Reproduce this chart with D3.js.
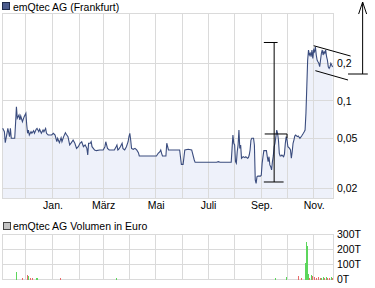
<!DOCTYPE html>
<html><head><meta charset="utf-8">
<script src="https://cdn.jsdelivr.net/npm/d3@7/dist/d3.min.js"></script>
<style>
html,body{margin:0;padding:0;background:#fff;}
svg{display:block;font-family:"Liberation Sans",Arial,sans-serif;}
</style></head>
<body>
<script>
// ---------- data ----------
const priceDates = [
"2004-11-04","2004-11-06","2004-11-07","2004-11-09","2004-11-10","2004-11-12","2004-11-13","2004-11-14","2004-11-18","2004-11-19",
"2004-11-20","2004-11-21","2004-11-23","2004-11-24","2004-11-25","2004-11-27","2004-11-29","2004-12-01","2004-12-02","2004-12-03",
"2004-12-04","2004-12-05","2004-12-07","2004-12-08","2004-12-10","2004-12-11","2004-12-13","2004-12-14","2004-12-16","2004-12-17",
"2004-12-19","2004-12-21","2004-12-22","2004-12-24","2004-12-25","2004-12-27","2004-12-31","2005-01-02","2005-01-04","2005-01-06",
"2005-01-07","2005-01-09","2005-01-11","2005-01-12","2005-01-14","2005-01-16","2005-01-17","2005-01-19","2005-01-21","2005-01-23",
"2005-01-25","2005-01-27","2005-01-29","2005-01-31","2005-02-02","2005-02-04","2005-02-06","2005-02-08","2005-02-10","2005-02-11",
"2005-02-12","2005-02-14","2005-02-15","2005-02-16","2005-02-19","2005-02-21","2005-02-25","2005-03-01","2005-03-03","2005-03-04",
"2005-03-06","2005-03-08","2005-03-14","2005-03-16","2005-03-17","2005-03-18","2005-03-19","2005-03-21","2005-03-23","2005-03-24",
"2005-03-25","2005-03-26","2005-03-28","2005-03-30","2005-03-31","2005-04-01","2005-04-02","2005-04-03","2005-04-05","2005-04-07",
"2005-04-09","2005-04-11","2005-04-12","2005-05-02","2005-05-04","2005-05-06","2005-05-07","2005-05-08","2005-05-09","2005-05-13",
"2005-05-14","2005-05-16","2005-05-29","2005-05-31","2005-06-02","2005-06-04","2005-06-08","2005-06-12","2005-06-15","2005-06-16",
"2005-07-11","2005-07-13","2005-07-15","2005-07-28","2005-07-29","2005-07-30","2005-07-31","2005-08-01","2005-08-02","2005-08-03",
"2005-08-04","2005-08-05","2005-08-06","2005-08-07","2005-08-08","2005-08-09","2005-08-11","2005-08-13","2005-08-14","2005-08-16",
"2005-08-17","2005-08-18","2005-08-19","2005-08-20","2005-08-21","2005-08-23","2005-08-24","2005-08-25","2005-08-26","2005-08-27",
"2005-08-28","2005-08-31","2005-09-01","2005-09-02","2005-09-03","2005-09-04","2005-09-07","2005-09-08","2005-09-09","2005-09-10",
"2005-09-11","2005-09-12","2005-09-13","2005-09-14","2005-09-15","2005-09-16","2005-09-17","2005-09-18","2005-09-19","2005-09-20",
"2005-09-21","2005-09-22","2005-09-23","2005-09-24","2005-09-25","2005-09-27","2005-09-28","2005-09-29","2005-09-30","2005-10-01",
"2005-10-02","2005-10-04","2005-10-05","2005-10-06","2005-10-07","2005-10-08","2005-10-09","2005-10-10","2005-10-11","2005-10-13",
"2005-10-14","2005-10-16","2005-10-18","2005-10-20","2005-10-21","2005-10-22","2005-10-23","2005-10-24","2005-10-25","2005-10-26",
"2005-10-27","2005-10-28","2005-10-29","2005-10-30","2005-10-31","2005-11-01","2005-11-02","2005-11-03","2005-11-04","2005-11-05",
"2005-11-06","2005-11-07","2005-11-08","2005-11-09","2005-11-10","2005-11-11","2005-11-12","2005-11-13","2005-11-14","2005-11-15",
"2005-11-16","2005-11-17","2005-11-18","2005-11-19","2005-11-20","2005-11-21","2005-11-23"
];
const priceValues = [
0.0600,0.0564,0.0461,0.0548,0.0600,0.0515,0.0600,0.0500,0.0500,0.0659,
0.0894,0.0722,0.0767,0.0700,0.0753,0.0679,0.0744,0.0792,0.0638,0.0548,
0.0582,0.0531,0.0564,0.0548,0.0575,0.0548,0.0590,0.0600,0.0564,0.0590,
0.0548,0.0582,0.0564,0.0600,0.0548,0.0531,0.0531,0.0548,0.0531,0.0469,
0.0500,0.0461,0.0505,0.0469,0.0515,0.0554,0.0538,0.0515,0.0442,0.0461,
0.0484,0.0456,0.0415,0.0428,0.0456,0.0469,0.0428,0.0442,0.0415,0.0367,
0.0456,0.0456,0.0469,0.0428,0.0403,0.0398,0.0403,0.0403,0.0428,0.0469,
0.0415,0.0403,0.0403,0.0428,0.0442,0.0403,0.0408,0.0428,0.0456,0.0415,
0.0408,0.0403,0.0428,0.0469,0.0515,0.0548,0.0484,0.0415,0.0408,0.0415,
0.0403,0.0383,0.0361,0.0361,0.0379,0.0390,0.0403,0.0379,0.0361,0.0361,
0.0456,0.0403,0.0403,0.0309,0.0309,0.0403,0.0408,0.0403,0.0335,0.0321,
0.0321,0.0325,0.0321,0.0321,0.0415,0.0531,0.0456,0.0442,0.0325,0.0315,
0.0390,0.0442,0.0582,0.0415,0.0442,0.0346,0.0356,0.0350,0.0356,0.0346,
0.0350,0.0367,0.0403,0.0484,0.0500,0.0500,0.0442,0.0232,0.0218,0.0246,
0.0249,0.0249,0.0253,0.0315,0.0356,0.0398,0.0398,0.0356,0.0325,0.0356,
0.0306,0.0296,0.0279,0.0325,0.0361,0.0428,0.0456,0.0515,0.0582,0.0548,
0.0484,0.0379,0.0361,0.0361,0.0367,0.0356,0.0374,0.0456,0.0515,0.0484,
0.0428,0.0415,0.0403,0.0346,0.0390,0.0456,0.0484,0.0521,0.0531,0.0515,
0.0521,0.0500,0.0521,0.0548,0.0564,0.0582,0.0792,0.1293,0.2113,0.2541,
0.2318,0.2392,0.2246,0.2541,0.2180,0.2541,0.2463,0.2700,0.2318,0.2113,
0.2048,0.1989,0.1867,0.2113,0.2392,0.2541,0.2318,0.2463,0.2392,0.2541,
0.2246,0.2113,0.1867,0.1814,0.1867,0.1989,0.1860
];
const volumeDates = [
"2004-11-20","2004-11-27","2004-12-03","2004-12-04","2004-12-06","2004-12-09","2004-12-13","2004-12-14","2005-01-10","2005-03-17",
"2005-09-17","2005-09-30","2005-10-14","2005-10-18","2005-10-22","2005-10-24","2005-10-25","2005-10-26","2005-10-27","2005-10-30",
"2005-10-31","2005-11-02","2005-11-04","2005-11-07","2005-11-09","2005-11-10","2005-11-13","2005-11-14","2005-11-16","2005-11-17",
"2005-11-20","2005-11-22","2005-11-23"
];
const volumeValues = [ // thousand euro
47,9,29,20,9,9,9,9,9,9,
9,12,22,9,109,247,220,36,9,29,
22,12,9,12,9,9,12,9,12,9,
9,12,9
];
const volumeDirection = [
"up","down","down","up","down","down","up","up","down","up",
"up","up","down","down","up","up","up","up","down","up",
"down","down","down","down","down","up","up","down","up","down",
"down","up","down"
];
const priceTicks = [0.02, 0.05, 0.1, 0.2];
const priceTickLabels = ["0,02", "0,05", "0,1", "0,2"];
const volumeTicks = [0, 100, 200, 300];
const volumeTickLabels = ["0T", "100T", "200T", "300T"];
const monthLabelDates = ["2005-01-01","2005-03-01","2005-05-01","2005-07-01","2005-09-01","2005-11-01"];
const monthLabels = ["Jan.", "März", "Mai", "Juli", "Sep.", "Nov."];
const priceTitle = "emQtec AG (Frankfurt)";
const volumeTitle = "emQtec AG Volumen in Euro";
// drawn annotations (date, price)
const channelUpper = [["2005-11-01", 0.275], ["2005-12-14", 0.2274]];
const channelLower = [["2005-11-03", 0.1736], ["2005-12-11", 0.1462]];
const arrowStem = [["2005-12-28", 0.1633], ["2005-12-28", 0.615]];
const arrowBase = [["2005-12-11", 0.1633], ["2006-01-03", 0.1633]];
const rangeStem = [["2005-09-16", 0.2918], ["2005-09-16", 0.02234]];
const rangeTop = [["2005-09-04", 0.2918], ["2005-09-20", 0.2918]];
const rangeMid = [["2005-09-05", 0.0541], ["2005-10-01", 0.0541], ["2005-10-01", 0.0500]];
const rangeBottom = [["2005-09-04", 0.02234], ["2005-09-27", 0.02234]];

// ---------- layout ----------
const W = 375, H = 288;
const P = {left: 2, right: 333, top: 13, bottom: 198};
const V = {top: 234, bottom: 279};
const gridColor = "#dadada";
const parse = d3.timeParse("%Y-%m-%d");

const x = d3.scaleTime()
  .domain([new Date(2004, 10, 3, 5), new Date(2005, 10, 23, 12)])
  .range([P.left, P.right]);
const y = d3.scaleLog().domain([0.016636, 0.5024]).range([P.bottom, P.top]);
const yv = d3.scaleLinear().domain([0, 300]).range([V.bottom, V.top]);

const prices = priceDates.map((d, i) => ({date: parse(d), v: priceValues[i]}));
const vols = volumeDates.map((d, i) => ({date: parse(d), v: volumeValues[i], dir: volumeDirection[i]}));
const months = d3.timeMonths(new Date(2004, 11, 1), new Date(2005, 10, 2));
const px = v => Math.floor(v) + 0.5;

const svg = d3.select("body").append("svg").attr("width", W).attr("height", H);

// ---------- price panel ----------
svg.append("path").datum(prices)
  .attr("fill", "#eef1fa")
  .attr("d", d3.area().x(d => x(d.date)).y0(P.bottom).y1(d => y(d.v)));

const g1 = svg.append("g").attr("shape-rendering", "crispEdges").attr("stroke", gridColor).attr("fill", "none");
g1.selectAll(".vg").data(months).enter().append("line")
  .attr("x1", d => px(x(d))).attr("x2", d => px(x(d))).attr("y1", P.top).attr("y2", P.bottom);
g1.selectAll(".hg").data(priceTicks).enter().append("line")
  .attr("x1", P.left).attr("x2", P.right).attr("y1", d => px(y(d))).attr("y2", d => px(y(d)));
g1.append("rect").attr("x", P.left + 0.5).attr("y", P.top + 0.5)
  .attr("width", P.right - P.left).attr("height", P.bottom - P.top);

svg.append("path").datum(prices)
  .attr("fill", "none").attr("stroke", "#3a4c7e").attr("stroke-width", 1.1)
  .attr("stroke-linejoin", "miter")
  .attr("d", d3.line().x(d => x(d.date)).y(d => y(d.v)));

// annotations
const annLine = d3.line().x(d => x(parse(d[0]))).y(d => y(d[1]));
const ann = svg.append("g").attr("fill", "none").attr("stroke", "#000").attr("stroke-width", 1);
[channelUpper, channelLower, arrowStem, arrowBase, rangeStem, rangeTop, rangeMid, rangeBottom]
  .forEach(seg => ann.append("path").attr("d", annLine(seg)));
const tip = arrowStem[1];
ann.append("path")
  .attr("transform", `translate(${x(parse(tip[0]))},${y(tip[1])})`)
  .attr("d", "M-4,12L0,0L4,12");

// price axis labels
const yAxis = d3.axisRight(y).tickValues(priceTicks)
  .tickFormat((d, i) => priceTickLabels[i]).tickSize(0).tickPadding(4);
const ya = svg.append("g").attr("transform", `translate(${P.right},0)`).call(yAxis);
ya.select(".domain").remove();
ya.selectAll("text").attr("font-size", "10.5px").attr("fill", "#000")
  .attr("font-family", "Liberation Sans, Arial, sans-serif").attr("dy", "0.35em");

// month labels
const xAxis = d3.axisBottom(x).tickValues(monthLabelDates.map(parse))
  .tickFormat((d, i) => monthLabels[i]).tickSize(0).tickPadding(4);
const xa = svg.append("g").attr("transform", `translate(0,${P.bottom})`).call(xAxis);
xa.select(".domain").remove();
xa.selectAll("text").attr("font-size", "10.5px").attr("fill", "#000")
  .attr("font-family", "Liberation Sans, Arial, sans-serif");

// title
svg.append("rect").attr("x", 2.5).attr("y", 2.5).attr("width", 7).attr("height", 7)
  .attr("fill", "#4b5b8c").attr("stroke", "#1e2a4a").attr("shape-rendering", "crispEdges");
svg.append("text").attr("x", 13).attr("y", 10.5).attr("font-size", "10.5px").attr("fill", "#000").text(priceTitle);

// ---------- volume panel ----------
const g2 = svg.append("g").attr("shape-rendering", "crispEdges").attr("stroke", gridColor).attr("fill", "none");
g2.selectAll(".vg").data(months).enter().append("line")
  .attr("x1", d => px(x(d))).attr("x2", d => px(x(d))).attr("y1", V.top).attr("y2", V.bottom);
g2.selectAll(".hg").data(volumeTicks).enter().append("line")
  .attr("x1", P.left).attr("x2", P.right).attr("y1", d => px(yv(d))).attr("y2", d => px(yv(d)));
g2.append("rect").attr("x", P.left + 0.5).attr("y", V.top + 0.5)
  .attr("width", P.right - P.left).attr("height", V.bottom - V.top);

svg.append("g").attr("shape-rendering", "crispEdges").selectAll("rect").data(vols).enter().append("rect")
  .attr("x", d => Math.floor(x(d.date))).attr("width", 1)
  .attr("y", d => yv(d.v)).attr("height", d => yv(0) - yv(d.v) + 0.5)
  .attr("fill", d => d.dir === "up" ? "#5cd65c" : "#e86a6a");

const vAxis = d3.axisRight(yv).tickValues(volumeTicks)
  .tickFormat((d, i) => volumeTickLabels[i]).tickSize(0).tickPadding(4);
const va = svg.append("g").attr("transform", `translate(${P.right},0)`).call(vAxis);
va.select(".domain").remove();
va.selectAll("text").attr("font-size", "10.5px").attr("fill", "#000")
  .attr("font-family", "Liberation Sans, Arial, sans-serif").attr("dy", "0.35em");

svg.append("rect").attr("x", 3.5).attr("y", 222.5).attr("width", 7).attr("height", 7)
  .attr("fill", "#c4c4c4").attr("stroke", "#444").attr("shape-rendering", "crispEdges");
svg.append("text").attr("x", 13).attr("y", 229.5).attr("font-size", "10.5px").attr("fill", "#000").text(volumeTitle);
</script>
</body></html>
